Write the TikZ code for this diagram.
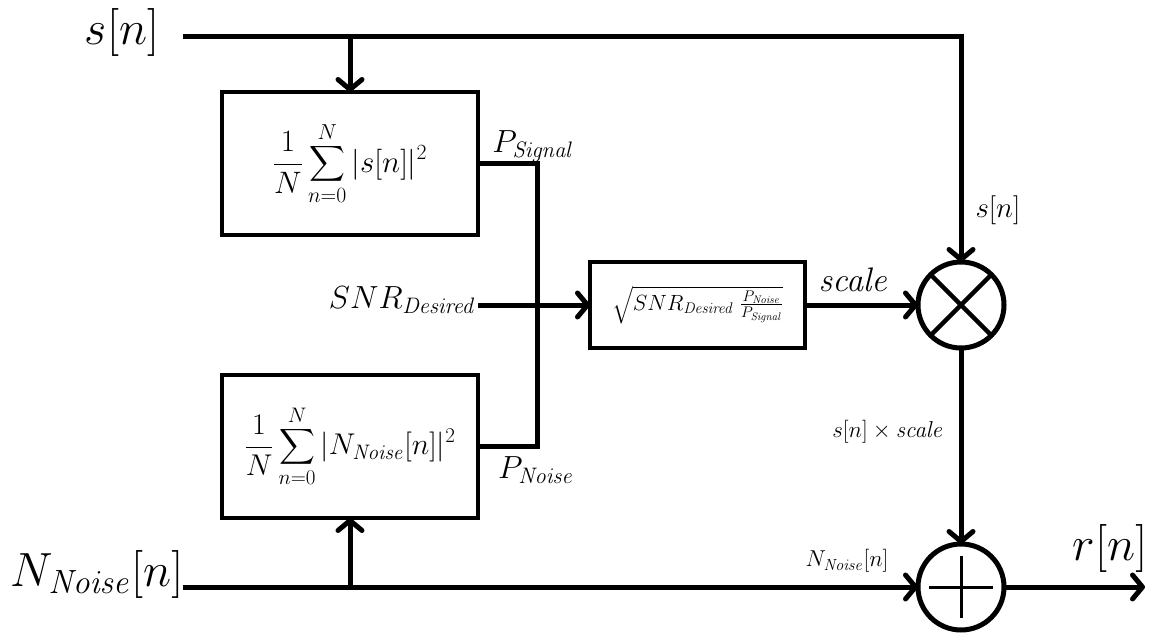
\RequirePackage{fix-cm}
\documentclass[tikz,border=0pt]{standalone}
\usepackage{amsmath}
\usetikzlibrary{arrows.meta,calc}
\begin{document}
\begin{tikzpicture}[x=1pt,y=-1pt,
  wire/.style={line width=5pt},
  arr/.style={wire,-{Straight Barb[length=10pt,width=24pt,line cap=round,line join=round]}},
  blk/.style={draw,line width=4.5pt,rectangle,inner sep=0pt,outer sep=0pt},
  summ/.style={draw,line width=5pt,circle,minimum size=86pt,inner sep=0pt,outer sep=0pt},
  big/.style={font=\fontsize{48}{56}\selectfont,inner sep=0pt},
  mid/.style={font=\fontsize{32}{38}\selectfont,inner sep=0pt},
  small/.style={font=\fontsize{23}{27}\selectfont,inner sep=0pt}
]
\useasboundingbox (0,0) rectangle (1153,634);

% blocks
\node[blk,minimum width=256pt,minimum height=143pt] (b1) at (350,163.5)
  {\fontsize{31}{36}\selectfont$\displaystyle\frac{1}{N}\sum_{n=0}^{N}|s[n]|^2$};
\node[blk,minimum width=256pt,minimum height=143pt] (b2) at (350,446.5)
  {\fontsize{30}{35}\selectfont$\displaystyle\frac{1}{N}\sum_{n=0}^{N}|N_{\mathit{Noise}}[n]|^2$};
\node[blk,line width=4pt,minimum width=215pt,minimum height=86pt] (b3) at (697.5,305)
  {\fontsize{22}{26}\selectfont$\sqrt{SNR_{\mathit{Desired}}\;\frac{P_{\mathit{Noise}}}{P_{\mathit{Signal}}}}$};
\node[summ] (mul) at (961,305) {};
\node[summ] (add) at (961,587) {};

% labels
\node[big] (sn) at (122,33) {$s[n]$};
\node[big] (nn) at (97,574) {$N_{\mathit{Noise}}[n]$};
\node[big] (rn) at (1110,548) {$r[n]$};
\node[mid] (psig) at (533,146) {$P_{\mathit{Signal}}$};
\node[mid] (pnoi) at (536,470) {$P_{\mathit{Noise}}$};
\node[mid,anchor=east] (snr) at (476,300) {$SNR_{\mathit{Desired}}$};
\node[mid,font=\fontsize{34}{40}\selectfont] (scl) at (854,280) {$\mathit{scale}$};
\node[small,font=\fontsize{29}{34}\selectfont] (sn2) at (998,210) {$s[n]$};
\node[small] (prod) at (888,432) {$s[n]\times \mathit{scale}$};
\node[small,font=\fontsize{23}{27}\selectfont] (nn2) at (847,561) {$N_{\mathit{Noise}}[n]$};

% coordinates
\coordinate (sL) at (183,37);
\coordinate (nL) at (183,587);
\coordinate (snrL) at (478,305);
\coordinate (jx) at (537,163.5);
\coordinate (rE) at (1145,587);

% connectors
\draw[arr] (sL) -| (mul.north);
\draw[arr] (b1.north |- sL) -- (b1.north);
\draw[wire] (b1.east) -- (jx) |- (b2.east);
\draw[arr] (snrL) -- (b3.west);
\draw[arr] (b3.east) -- (mul.west);
\draw[arr] (mul.south) -- (add.north);
\draw[arr] (nL) -- (add.west);
\draw[arr] (b2.south |- nL) -- (b2.south);
\draw[arr] (add.east) -- (rE);

% multiplier cross
\draw[line width=4.5pt] (mul.north east) -- (mul.south west);
\draw[line width=4.5pt] (mul.north west) -- (mul.south east);
% adder plus
\draw[line width=3pt] ($(add.center)+(-32,0)$) -- ($(add.center)+(32,0)$);
\draw[line width=3pt] ($(add.center)+(0,-31)$) -- ($(add.center)+(0,31)$);
\end{tikzpicture}
\end{document}
